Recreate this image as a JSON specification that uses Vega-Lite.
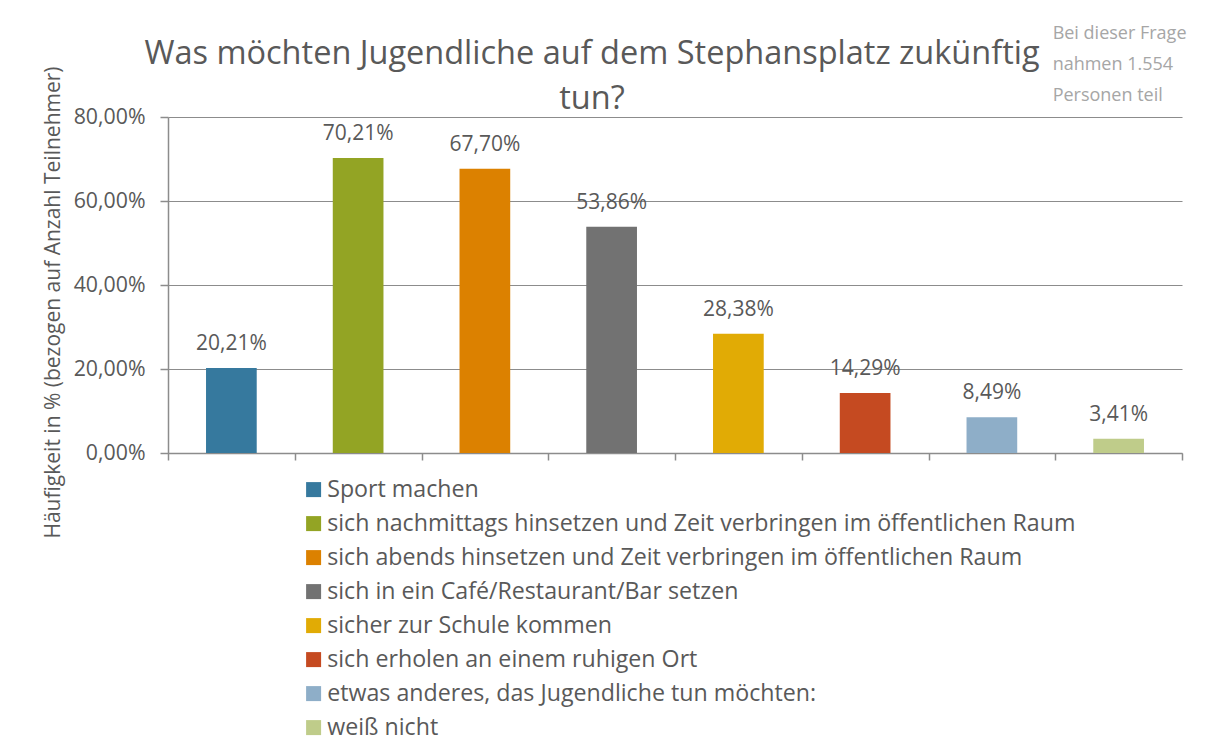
{
  "$schema": "https://vega.github.io/schema/vega-lite/v6.json",
  "width": 1014,
  "height": 336,
  "autosize": {"type": "none"},
  "padding": {"left": 168, "top": 117, "right": 35, "bottom": 303},
  "background": "white",
  "config": {
    "font": "Open Sans",
    "view": {"stroke": null},
    "locale": {"number": {"decimal": ",", "thousands": ".", "grouping": [3], "currency": ["", " €"]}}
  },
  "title": {
    "text": ["Was möchten Jugendliche auf dem Stephansplatz zukünftig", "tun?"],
    "font": "Open Sans",
    "fontSize": 32.5,
    "fontWeight": "normal",
    "color": "#595959",
    "anchor": "middle",
    "frame": "group",
    "dx": -83,
    "lineHeight": 45,
    "offset": -90
  },
  "data": {
    "values": [
      {"cat": "Sport machen", "value": 0.2021},
      {"cat": "sich nachmittags hinsetzen und Zeit verbringen im öffentlichen Raum", "value": 0.7021},
      {"cat": "sich abends hinsetzen und Zeit verbringen im öffentlichen Raum", "value": 0.677},
      {"cat": "sich in ein Café/Restaurant/Bar setzen", "value": 0.5386},
      {"cat": "sicher zur Schule kommen", "value": 0.2838},
      {"cat": "sich erholen an einem ruhigen Ort", "value": 0.1429},
      {"cat": "etwas anderes, das Jugendliche tun möchten:", "value": 0.0849},
      {"cat": "weiß nicht", "value": 0.0341, "note": "Bei dieser Frage\nnahmen 1.554\nPersonen teil"}
    ]
  },
  "encoding": {
    "x": {
      "field": "cat",
      "type": "nominal",
      "sort": null,
      "scale": {"paddingInner": 0, "paddingOuter": 0},
      "axis": {
        "title": null,
        "labels": false,
        "tickBand": "extent",
        "ticks": true,
        "tickSize": 7,
        "tickColor": "#8c8c8c",
        "tickWidth": 1.5,
        "domainColor": "#8c8c8c",
        "domainWidth": 1.5,
        "grid": false
      }
    },
    "y": {
      "field": "value",
      "type": "quantitative",
      "scale": {"domain": [0, 0.8], "nice": false},
      "axis": {
        "title": "Häufigkeit in % (bezogen auf Anzahl  Teilnehmer)",
        "titleFont": "Open Sans",
        "titleFontSize": 21,
        "titleFontWeight": "normal",
        "titleColor": "#595959",
        "titleY": 185,
        "titleX": -105,
        "titleBaseline": "bottom",
        "values": [0, 0.2, 0.4, 0.6, 0.8],
        "format": ".2%",
        "labelFont": "Open Sans",
        "labelFontSize": 21.3,
        "labelColor": "#595959",
        "labelPadding": 15,
        "tickSize": 8,
        "tickColor": "#8c8c8c",
        "tickWidth": 1.5,
        "domainColor": "#8c8c8c",
        "domainWidth": 1.5,
        "grid": true,
        "gridColor": "#8c8c8c",
        "gridWidth": 1.2
      }
    }
  },
  "layer": [
    {
      "mark": {"type": "bar", "width": {"band": 0.4}},
      "encoding": {
        "color": {
          "field": "cat",
          "type": "nominal",
          "sort": null,
          "scale": {
            "domain": [
              "Sport machen",
              "sich nachmittags hinsetzen und Zeit verbringen im öffentlichen Raum",
              "sich abends hinsetzen und Zeit verbringen im öffentlichen Raum",
              "sich in ein Café/Restaurant/Bar setzen",
              "sicher zur Schule kommen",
              "sich erholen an einem ruhigen Ort",
              "etwas anderes, das Jugendliche tun möchten:",
              "weiß nicht"
            ],
            "range": ["#36799e", "#93a424", "#dc8100", "#727272", "#e1ab05", "#c54a21", "#8eaec8", "#bfcc8a"]
          },
          "legend": {
            "title": null,
            "orient": "none",
            "legendX": 134,
            "legendY": 361,
            "symbolType": "square",
            "symbolSize": 225,
            "symbolStrokeWidth": 0,
            "labelFont": "Open Sans",
            "labelFontSize": 23.2,
            "labelColor": "#595959",
            "labelLimit": 1000,
            "labelOffset": 2,
            "rowPadding": 10
          }
        }
      }
    },
    {
      "mark": {"type": "text", "baseline": "alphabetic", "dy": -18, "fontSize": 21, "color": "#595959"},
      "encoding": {
        "text": {"field": "value", "type": "quantitative", "format": ".2%"}
      }
    },
    {
      "transform": [{"filter": "isValid(datum.note)"}],
      "mark": {"type": "text", "align": "left", "baseline": "alphabetic", "lineBreak": "\n", "lineHeight": 31, "fontSize": 18, "color": "#a6a6a6", "dx": -66, "dy": -78},
      "encoding": {
        "y": {"datum": 0.8},
        "text": {"field": "note", "type": "nominal"}
      }
    }
  ]
}
